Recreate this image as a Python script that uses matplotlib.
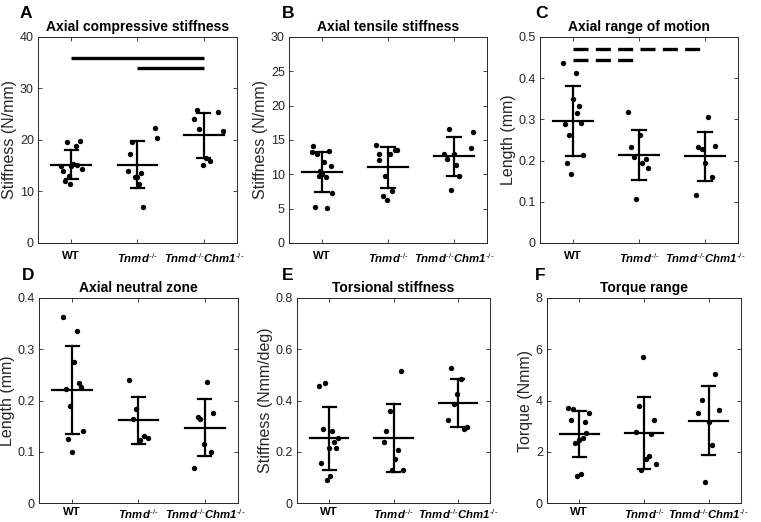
import matplotlib.pyplot as plt
from matplotlib.ticker import FuncFormatter

plt.rcParams['font.family'] = ['Liberation Sans', 'DejaVu Sans']
plt.rcParams['mathtext.fontset'] = 'custom'
plt.rcParams['mathtext.it'] = 'Liberation Sans:italic:bold'
plt.rcParams['mathtext.rm'] = 'Liberation Sans'
plt.rcParams['mathtext.bf'] = 'Liberation Sans:italic:bold'

ko = '\u2010/\u2010'
groups = ['WT', r'$\mathit{Tnmd}^{\mathrm{%s}}$' % ko,
          r'$\mathit{Tnmd}^{\mathrm{%s}}\mathit{Chm}\mathbf{1}^{\mathrm{%s}}$' % (ko, ko)]

# A - axial compressive stiffness
a_vals = [[19.7, 19.9, 18.8, 15.0, 15.4, 15.2, 14.4, 13.9, 13.1, 12.1, 11.4, 15.0],
          [22.4, 20.4, 19.7, 17.2, 13.9, 13.6, 12.9, 12.8, 11.5, 7.0],
          [25.9, 25.4, 24.1, 22.2, 21.8, 16.6, 16.0, 15.2]]
a_dx = [[-0.06, 0.13, 0.07, -0.15, 0.03, 0.09, 0.16, -0.13, -0.04, -0.10, -0.02, 0.0],
        [0.26, 0.29, -0.08, -0.11, -0.14, 0.06, -0.04, 0.0, 0.02, 0.09],
        [-0.10, 0.21, -0.15, -0.07, 0.29, 0.03, 0.10, -0.02]]
a_mean = [15.2, 15.1, 20.9]
a_lo = [12.4, 10.6, 16.6]
a_hi = [18.0, 19.8, 25.2]

# B - axial tensile stiffness
b_vals = [[14.1, 13.3, 13.0, 13.4, 11.8, 11.2, 10.5, 10.1, 9.8, 9.6, 7.3, 5.3, 5.1],
          [14.2, 13.0, 13.0, 13.6, 13.6, 12.1, 9.7, 7.6, 6.8, 6.3],
          [16.6, 16.2, 13.9, 12.9, 12.3, 13.0, 11.3, 9.8, 7.7]]
b_dx = [[-0.13, -0.15, -0.08, 0.10, 0.03, 0.13, -0.03, 0.0, -0.05, 0.06, 0.15, -0.10, 0.07],
        [-0.18, -0.13, 0.03, 0.10, 0.14, -0.14, -0.05, 0.06, -0.08, -0.01],
        [-0.08, 0.29, 0.25, -0.15, -0.11, 0.0, 0.03, 0.08, -0.04]]
b_mean = [10.35, 11.0, 12.6]
b_lo = [7.4, 8.0, 9.8]
b_hi = [13.3, 14.0, 15.5]

# C - axial range of motion
c_vals = [[0.437, 0.412, 0.349, 0.333, 0.316, 0.288, 0.291, 0.261, 0.214, 0.194, 0.167],
          [0.318, 0.262, 0.234, 0.208, 0.204, 0.195, 0.183, 0.107],
          [0.305, 0.236, 0.232, 0.228, 0.193, 0.161, 0.116]]
c_dx = [[-0.15, 0.04, 0.0, 0.09, 0.06, -0.12, 0.12, -0.06, 0.15, -0.09, -0.03],
        [-0.16, 0.02, -0.12, -0.08, 0.10, 0.05, 0.14, -0.04],
        [0.05, 0.15, -0.10, -0.05, 0.0, 0.10, -0.14]]
c_mean = [0.297, 0.214, 0.210]
c_lo = [0.212, 0.152, 0.150]
c_hi = [0.382, 0.275, 0.270]

# D - axial neutral zone
d_vals = [[0.362, 0.335, 0.276, 0.234, 0.226, 0.222, 0.189, 0.140, 0.125, 0.099],
          [0.240, 0.184, 0.164, 0.130, 0.127, 0.122],
          [0.237, 0.175, 0.167, 0.164, 0.116, 0.100, 0.068]]
d_dx = [[-0.14, 0.07, 0.03, 0.10, 0.13, -0.10, -0.03, 0.16, -0.07, 0.0],
        [-0.15, -0.04, -0.09, 0.09, 0.14, 0.02],
        [0.04, 0.13, -0.11, -0.07, -0.02, 0.09, -0.16]]
d_mean = [0.221, 0.161, 0.147]
d_lo = [0.134, 0.116, 0.091]
d_hi = [0.307, 0.207, 0.203]

# E - torsional stiffness
e_vals = [[0.468, 0.458, 0.290, 0.281, 0.252, 0.240, 0.216, 0.216, 0.156, 0.105, 0.090],
          [0.514, 0.360, 0.280, 0.237, 0.208, 0.173, 0.127, 0.127],
          [0.525, 0.482, 0.424, 0.388, 0.322, 0.295, 0.290]]
e_dx = [[-0.07, -0.16, -0.10, 0.05, 0.14, 0.08, 0.0, 0.11, -0.13, 0.02, -0.04],
        [0.11, -0.06, -0.11, -0.15, 0.07, 0.02, -0.03, 0.15],
        [-0.11, 0.05, -0.01, -0.06, -0.16, 0.15, 0.10]]
e_mean = [0.252, 0.253, 0.390]
e_lo = [0.130, 0.122, 0.298]
e_hi = [0.375, 0.385, 0.482]

# F - torque range
f_vals = [[3.70, 3.65, 3.50, 3.22, 3.18, 2.75, 2.55, 2.45, 2.35, 1.15, 1.07],
          [5.70, 3.80, 3.25, 2.78, 2.68, 1.82, 1.70, 1.52, 1.28],
          [5.03, 4.02, 3.63, 3.50, 3.15, 2.27, 0.82]]
f_dx = [[-0.17, -0.10, 0.15, -0.13, 0.08, 0.11, 0.05, -0.01, -0.07, 0.02, -0.04],
        [-0.01, -0.08, 0.15, -0.12, 0.11, 0.07, 0.03, 0.19, -0.04],
        [0.10, -0.10, 0.16, -0.16, 0.0, 0.05, -0.05]]
f_mean = [2.68, 2.72, 3.20]
f_lo = [1.78, 1.33, 1.87]
f_hi = [3.60, 4.12, 4.55]

panels = [
    ('A', 'Axial compressive stiffness', 'Stiffness (N/mm)', a_vals, a_dx, a_mean, a_lo, a_hi, 40, 10),
    ('B', 'Axial tensile stiffness', 'Stiffness (N/mm)', b_vals, b_dx, b_mean, b_lo, b_hi, 30, 5),
    ('C', 'Axial range of motion', 'Length (mm)', c_vals, c_dx, c_mean, c_lo, c_hi, 0.5, 0.1),
    ('D', 'Axial neutral zone', 'Length (mm)', d_vals, d_dx, d_mean, d_lo, d_hi, 0.4, 0.1),
    ('E', 'Torsional stiffness', 'Stiffness (Nmm/deg)', e_vals, e_dx, e_mean, e_lo, e_hi, 0.8, 0.2),
    ('F', 'Torque range', 'Torque (Nmm)', f_vals, f_dx, f_mean, f_lo, f_hi, 8, 2),
]

# axes boxes in pixels: left, right, top, bottom, letter offset, x label pad
boxes = [(38, 237, 37, 243, 18, 6), (289, 487, 37, 243, 7, 6), (540, 738, 37, 243, 5, 6),
         (39, 238, 298, 503, 17, 3), (297, 490, 298, 503, 15, 3), (547, 741, 298, 503, 12, 3)]

W, H = 761, 522
fig = plt.figure(figsize=(W / 100, H / 100), dpi=100)
ink = '#262626'

axes = []
for (letter, title, ylab, vals, dx, mean, lo, hi, ymax, step), (l, r, t, b, lx, xpad) in zip(panels, boxes):
    ax = fig.add_axes([l / W, 1 - b / H, (r - l) / W, (b - t) / H])
    for i in range(3):
        x = i + 1
        ax.scatter([x + d for d in dx[i]], vals[i], s=15, color='black', zorder=3, linewidths=0)
        ax.plot([x - 0.3, x + 0.3], [mean[i], mean[i]], color='black', lw=1.6)
        ax.plot([x, x], [lo[i], hi[i]], color='black', lw=1.6)
        ax.plot([x - 0.1, x + 0.1], [lo[i], lo[i]], color='black', lw=1.6)
        ax.plot([x - 0.1, x + 0.1], [hi[i], hi[i]], color='black', lw=1.6)
    ax.set_xlim(0.5, 3.5)
    ax.set_ylim(0, ymax)
    ax.set_yticks([k * step for k in range(int(round(ymax / step)) + 1)])
    ax.yaxis.set_major_formatter(FuncFormatter(lambda v, p: '%g' % round(v, 3)))
    ax.set_xticks([1, 2, 3])
    ax.set_xticklabels(groups, fontweight='bold')
    ax.tick_params(direction='in', top=True, right=True, length=3, width=0.6,
                   colors=ink, labelsize=9, pad=3)
    ax.tick_params(axis='x', labelcolor='black', labelsize=8.2, pad=xpad)
    for s in ax.spines.values():
        s.set_color(ink)
        s.set_linewidth(0.7)
    ax.set_title(title, fontsize=10, fontweight='bold', pad=4)
    ax.set_ylabel(ylab, fontsize=11.5, color=ink, labelpad=2)
    fig.text((l - lx) / W, 1 - (t - 23) / H, letter, fontsize=12.5, fontweight='bold', va='center')
    axes.append(ax)

# significance bars
for x0, x1, y in [(1, 3, 36), (2, 3, 34)]:
    axes[0].plot([x0, x1], [y, y], color='black', lw=2.4, solid_capstyle='butt')
for x0, x1, y in [(1, 3, 0.47), (1, 2, 0.443)]:
    axes[2].plot([x0, x1], [y, y], color='black', lw=2.4, dashes=(4.5, 2.2))

fig.savefig('out.png', dpi=100)
